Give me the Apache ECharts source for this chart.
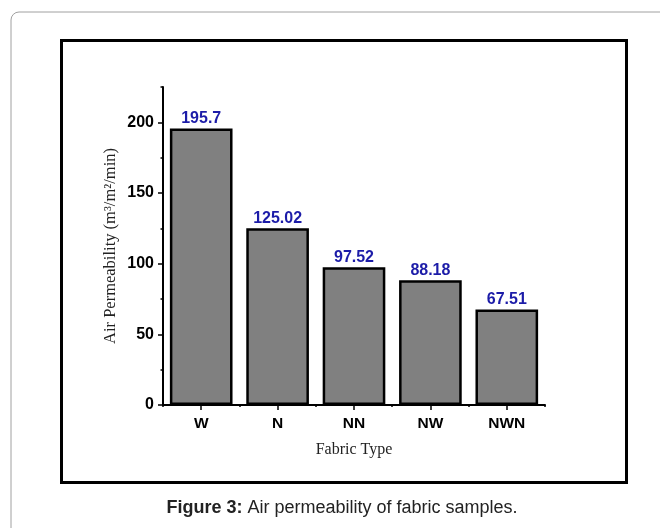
<!DOCTYPE html>
<html>
<head>
<meta charset="utf-8">
<script src="https://cdn.jsdelivr.net/npm/echarts@6/dist/echarts.min.js"></script>
<style>
html,body{margin:0;padding:0;background:#fff;}
#c{width:660px;height:528px;}
</style>
</head>
<body>
<div id="c"></div>
<script>
var categories = ['W', 'N', 'NN', 'NW', 'NWN'];
var permeability = [195.7, 125.02, 97.52, 88.18, 67.51];
var valueLabels = ['195.7', '125.02', '97.52', '88.18', '67.51'];
var majorTicks = [0, 50, 100, 150, 200];
var minorTicks = [0, 25, 50, 75, 100, 125, 150, 175, 200, 225];

var chart = echarts.init(document.getElementById('c'), null, {renderer: 'canvas'});
var sans = 'Liberation Sans, Arial, sans-serif';
var serif = 'Liberation Serif, Times New Roman, serif';

chart.setOption({
  backgroundColor: '#fff',
  animation: false,
  graphic: [
    {type: 'rect', shape: {x: 11, y: 12, width: 720, height: 620, r: 8}, style: {fill: 'none', stroke: '#a0a0a0', lineWidth: 1}, silent: true, z: -10},
    {type: 'rect', shape: {x: 61.5, y: 40.5, width: 565, height: 442}, style: {fill: 'none', stroke: '#000', lineWidth: 3}, silent: true, z: -5},
    {type: 'text', x: 342, y: 508, style: {
      text: '{b|Figure 3:} Air permeability of fabric samples.',
      align: 'center', verticalAlign: 'middle',
      font: '18px ' + sans, fill: '#222',
      rich: {b: {fontWeight: 'bold', fontSize: 18, fontFamily: sans, fill: '#222'}}
    }}
  ],
  grid: {left: 163, right: 115, top: 87, bottom: 123},
  xAxis: [
    {
      type: 'category', data: categories, gridIndex: 0,
      axisLine: {lineStyle: {color: '#000', width: 2}},
      axisTick: {show: true, alignWithLabel: true, length: 5, lineStyle: {color: '#000', width: 1.5}},
      axisLabel: {color: '#000', fontFamily: sans, fontWeight: 'bold', fontSize: 15.5, margin: 11},
      name: 'Fabric Type', nameLocation: 'middle', nameGap: 37, nameMoveOverlap: false,
      nameTextStyle: {fontFamily: serif, fontSize: 16, color: '#222'},
      splitLine: {show: false}
    },
    {
      type: 'category', data: categories, gridIndex: 0, position: 'bottom',
      axisLine: {show: false},
      axisTick: {show: true, length: 2, lineStyle: {color: '#000', width: 1.5}},
      axisLabel: {show: false},
      splitLine: {show: false}
    }
  ],
  yAxis: [
    {
      type: 'value', min: 0, max: 225, interval: 50,
      axisLine: {show: true, lineStyle: {color: '#000', width: 2}},
      axisTick: {show: true, length: 5, customValues: majorTicks, lineStyle: {color: '#000', width: 1.5}},
      axisLabel: {color: '#000', fontFamily: sans, fontWeight: 'bold', fontSize: 16, margin: 9, customValues: majorTicks},
      splitLine: {show: false},
      name: 'Air Permeability (m³/m²/min)', nameLocation: 'middle', nameGap: 44, nameMoveOverlap: false,
      nameTextStyle: {fontFamily: serif, fontSize: 16.5, color: '#222'}
    },
    {
      type: 'value', min: 0, max: 225, interval: 25, position: 'left',
      axisLine: {show: false},
      axisTick: {show: true, length: 2.5, customValues: minorTicks, lineStyle: {color: '#000', width: 1.5}},
      axisLabel: {show: false},
      splitLine: {show: false}
    }
  ],
  series: [{
    type: 'bar', data: permeability, xAxisIndex: 0, yAxisIndex: 0,
    barWidth: '82%',
    itemStyle: {color: '#808080', borderColor: '#000', borderWidth: 2.5},
    label: {
      show: true, position: 'top', distance: 2,
      formatter: function (p) { return valueLabels[p.dataIndex]; },
      color: '#1c1ca8', fontFamily: sans, fontWeight: 'bold', fontSize: 16
    }
  }]
});
</script>
</body>
</html>
